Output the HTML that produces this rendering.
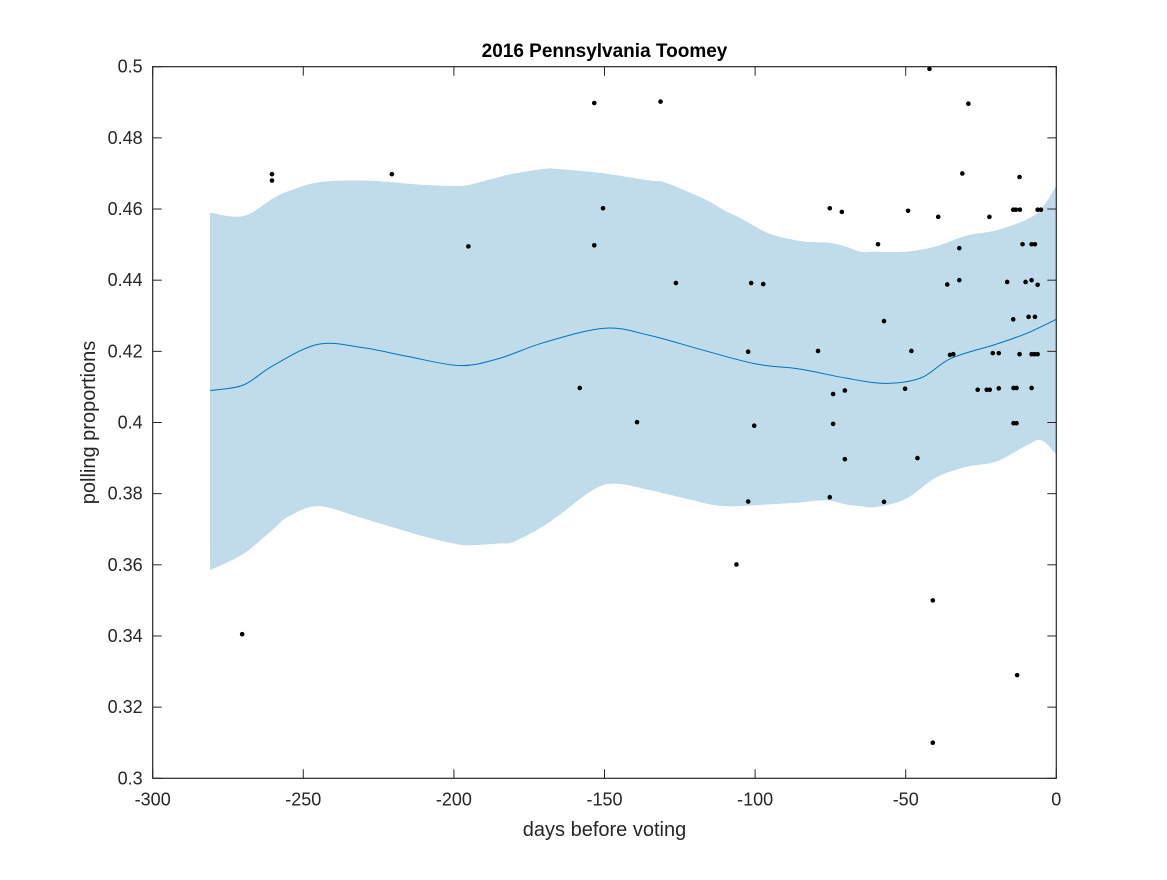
<!DOCTYPE html>
<html><head><meta charset="utf-8"><style>
body{margin:0;background:#fff;}
svg{font-family:"Liberation Sans",Arial,sans-serif;}
</style></head><body>
<svg id="chart" width="1167" height="875" xmlns="http://www.w3.org/2000/svg">
<rect width="1167" height="875" fill="#fff"/>
<g id="plot"></g>
</svg>
<script>
const xTicks=[-300,-250,-200,-150,-100,-50,0];
const yTicks=[0.3,0.32,0.34,0.36,0.38,0.4,0.42,0.44,0.46,0.48,0.5];
const yTickLabels=["0.3","0.32","0.34","0.36","0.38","0.4","0.42","0.44","0.46","0.48","0.5"];
const bandDays=[-281,-270,-260,-255,-245,-230,-210,-200,-195,-185,-180,-170,-165,-150,-135,-130,-120,-115,-110,-105,-95,-85,-80,-75,-70,-65,-60,-50,-40,-30,-20,-10,-5,0];
const bandUpper=[0.459,0.458,0.463,0.465,0.4675,0.468,0.4668,0.4665,0.4668,0.469,0.470,0.4713,0.4712,0.470,0.468,0.4675,0.464,0.462,0.4595,0.4575,0.453,0.451,0.4507,0.4505,0.4495,0.448,0.448,0.448,0.4495,0.4525,0.454,0.457,0.460,0.4665];
const bandLower=[0.3585,0.363,0.370,0.3735,0.3765,0.373,0.368,0.366,0.3655,0.366,0.3665,0.371,0.374,0.3825,0.381,0.380,0.378,0.377,0.3765,0.3765,0.377,0.3775,0.378,0.378,0.377,0.3765,0.3762,0.3785,0.3845,0.3875,0.389,0.3935,0.395,0.391];
const meanDays=[-281,-270,-260,-245,-230,-215,-198,-185,-170,-150,-135,-118,-100,-85,-70,-57,-45,-35,-20,-10,0];
const meanVals=[0.409,0.4105,0.416,0.422,0.421,0.4185,0.416,0.418,0.4225,0.4265,0.4245,0.4205,0.4165,0.415,0.4125,0.411,0.4125,0.418,0.422,0.425,0.429];
const pollDays=[-270.3,-260.4,-260.4,-220.6,-195.2,-158.2,-153.4,-153.4,-150.5,-139.2,-131.4,-126.3,-106.2,-102.3,-102.3,-101.3,-100.3,-97.3,-79.1,-75.2,-75.2,-74.1,-74.1,-71.2,-70.2,-70.2,-59.2,-57.2,-57.2,-50.2,-49.2,-48.1,-46.1,-42.1,-41,-41,-39.2,-36.2,-35.3,-34.2,-32.2,-32.2,-31.2,-29.2,-26.1,-23.1,-22.2,-22.1,-21.1,-19.1,-19.1,-16.3,-14.3,-14.3,-14.2,-14.2,-13.4,-13.2,-13.2,-13,-12.2,-12.2,-12.1,-11.2,-10.2,-9.2,-8.2,-8.2,-8.2,-8.2,-7.2,-7.1,-7.1,-6.2,-6.2,-6.2,-5.1];
const pollVals=[0.3405,0.468,0.4698,0.4698,0.4495,0.4097,0.4898,0.4498,0.4602,0.4001,0.4902,0.4392,0.3601,0.4199,0.3778,0.4392,0.3991,0.4389,0.4201,0.4602,0.379,0.408,0.3996,0.4592,0.409,0.3897,0.4501,0.4285,0.3777,0.4095,0.4595,0.4201,0.390,0.4994,0.35,0.31,0.4578,0.4388,0.419,0.4192,0.449,0.440,0.470,0.4896,0.4092,0.4092,0.4578,0.4092,0.4195,0.4195,0.4096,0.4395,0.4598,0.429,0.4097,0.3998,0.4598,0.4097,0.3998,0.329,0.469,0.4192,0.4598,0.4501,0.4395,0.4297,0.4192,0.4097,0.4501,0.440,0.4192,0.4501,0.4297,0.4192,0.4387,0.4598,0.4598];

const L=152.7,R=1056.3,T=66.7,B=778.3;
const xs=d=>L+(d+300)/300*(R-L);
const ys=v=>B-(v-0.3)/0.2*(B-T);
const NS="http://www.w3.org/2000/svg";
const g=document.getElementById('plot');
function mk(tag,attrs,parent){const e=document.createElementNS(NS,tag);for(const k in attrs)e.setAttribute(k,attrs[k]);(parent||g).appendChild(e);return e;}

let pts=bandDays.map((d,i)=>[xs(d),ys(bandUpper[i])]);
let lo=bandDays.map((d,i)=>[xs(d),ys(bandLower[i])]).reverse();
function smooth(p){let s="M"+p[0][0]+","+p[0][1];for(let i=0;i<p.length-1;i++){const p0=p[i-1]||p[i],p1=p[i],p2=p[i+1],p3=p[i+2]||p2;s+=" C"+(p1[0]+(p2[0]-p0[0])/6)+","+(p1[1]+(p2[1]-p0[1])/6)+" "+(p2[0]-(p3[0]-p1[0])/6)+","+(p2[1]-(p3[1]-p1[1])/6)+" "+p2[0]+","+p2[1];}return s;}
const band=mk('path',{d:smooth(pts)+" L"+lo[0][0]+","+lo[0][1]+smooth(lo).replace(/^M[^C]*/," ")+" Z",fill:"#c0dcea",stroke:"none"});


const line=mk('path',{d:smooth(meanDays.map((d,i)=>[xs(d),ys(meanVals[i])])),fill:"none",stroke:"#0072bd","stroke-width":1});



pollDays.forEach((d,i)=>{
 const c=mk('circle',{cx:xs(d),cy:ys(pollVals[i]),r:2.3,fill:"#000"});
 
 
});

const box=mk('rect',{x:L,y:T,width:R-L,height:B-T,fill:"none",stroke:"#262626","stroke-width":1.2});


xTicks.forEach(t=>{
 const x=xs(t);
 mk('line',{x1:x,x2:x,y1:B,y2:B-9,stroke:"#262626"});
 mk('line',{x1:x,x2:x,y1:T,y2:T+9,stroke:"#262626"});
 const tx=mk('text',{x:x,y:B+27,"text-anchor":"middle","font-size":"18",fill:"#262626"});
 tx.textContent=String(t);
 
 
});
yTicks.forEach((t,i)=>{
 const y=ys(t);
 mk('line',{x1:L,x2:L+9,y1:y,y2:y,stroke:"#262626"});
 mk('line',{x1:R,x2:R-9,y1:y,y2:y,stroke:"#262626"});
 const tx=mk('text',{x:L-10,y:y+6,"text-anchor":"end","font-size":"18",fill:"#262626"});
 tx.textContent=yTickLabels[i];
 
 
});
const ti=mk('text',{x:(L+R)/2,y:57,"text-anchor":"middle","font-size":"19","font-weight":"bold",fill:"#000"});
ti.textContent="2016 Pennsylvania Toomey";


const xl=mk('text',{x:(L+R)/2,y:836,"text-anchor":"middle","font-size":"20",fill:"#262626"});
xl.textContent="days before voting";


const yl=mk('text',{x:0,y:0,transform:"translate(95,"+((T+B)/2)+") rotate(-90)","text-anchor":"middle","font-size":"20",fill:"#262626"});
yl.textContent="polling proportions";


</script>
</body></html>
